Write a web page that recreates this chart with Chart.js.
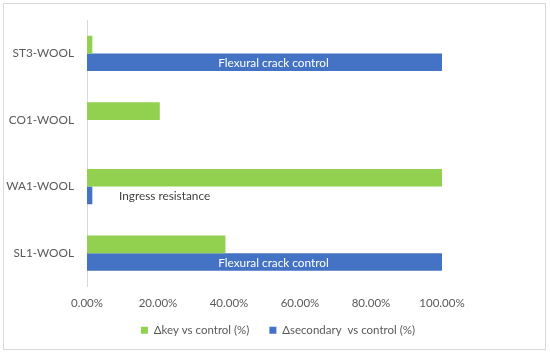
<!DOCTYPE html>
<html>
<head>
<meta charset="utf-8">
<script src="https://cdn.jsdelivr.net/npm/chart.js@4.4.1/dist/chart.umd.min.js"></script>
<style>
	html, body { margin: 0; padding: 0; background: #fff; }
	#wrap { position: relative; width: 550px; height: 355px; }
	#frame {
		position: absolute; left: 3px; top: 3px; width: 541px; height: 345px;
		border: 1px solid #d9d9d9;
	}
	canvas { position: absolute; left: 0; top: 0; }
</style>
</head>
<body>
<div id="wrap">
	<div id="frame"></div>
	<canvas id="chart" width="550" height="355"></canvas>
</div>
<script>
	// categories, top to bottom as drawn
	const categories = ["ST3-WOOL", "CO1-WOOL", "WA1-WOOL", "SL1-WOOL"];

	// series values (%)
	const keyVsControl = [1.5, 20.5, 100, 39];
	const secondaryVsControl = [100, 0, 1.5, 100];

	// notes written on the secondary bars
	const secondaryNotes = ["Flexural crack control", "", "Ingress resistance", "Flexural crack control"];

	// x axis ticks
	const xTicks = [0, 20, 40, 60, 80, 100, 120];

	const FONT = "Lato";
	const TEXT = "#595959";

	const barNotes = {
		id: "barNotes",
		afterDatasetsDraw(chart) {
			const ctx = chart.ctx;
			const meta = chart.getDatasetMeta(1);
			const xs = chart.scales.x;
			ctx.save();
			ctx.font = `11.8px ${FONT}`;
			ctx.textBaseline = "middle";
			secondaryNotes.forEach((note, i) => {
				if (!note) return;
				const bar = meta.data[i];
				if (Math.abs(bar.x - bar.base) > 150) {
					ctx.fillStyle = "#ffffff";
					ctx.textAlign = "center";
					ctx.fillText(note, (bar.x + bar.base) / 2 + 9, bar.y + 1);
				} else {
					ctx.fillStyle = "#404040";
					ctx.textAlign = "left";
					ctx.fillText(note, xs.getPixelForValue(9), bar.y + 1);
				}
			});
			ctx.restore();
		},
	};

	// legend row is centred on the whole frame, not on the padded plot,
	// and lifted so the wide item padding doesn't push it down
	const placeLegend = {
		id: "placeLegend",
		afterLayout(chart) {
			const legend = chart.legend;
			const shift = (chart.width - (legend.left + legend.right)) / 2 + 3;
			legend.left += shift;
			legend.right += shift;
			legend.top -= 10;
			legend.bottom -= 10;
		},
	};

	new Chart(document.getElementById("chart"), {
		type: "bar",
		data: {
			labels: categories,
			datasets: [
				{
					label: "Δkey vs control (%)",
					data: keyVsControl,
					backgroundColor: "#92d050",
					barPercentage: 1,
					categoryPercentage: 0.53,
				},
				{
					label: "Δsecondary  vs control (%)",
					data: secondaryVsControl,
					backgroundColor: "#4472c4",
					barPercentage: 1,
					categoryPercentage: 0.53,
				},
			],
		},
		options: {
			indexAxis: "y",
			responsive: false,
			animation: false,
			layout: {
				padding: { top: 17.5, right: 37, left: 0, bottom: 9 },
			},
			scales: {
				x: {
					min: 0,
					max: 120,
					afterBuildTicks(scale) {
						scale.ticks = xTicks.map((v) => ({ value: v }));
					},
					afterFit(scale) {
						scale.height = 28;
					},
					grid: { display: false, drawTicks: false },
					border: { display: false },
					ticks: {
						color: TEXT,
						font: { family: FONT, size: 11.5 },
						padding: 10,
						callback: (v) => (v > 100 ? "" : v.toFixed(2) + "%"),
					},
				},
				y: {
					afterFit(scale) {
						scale.width = 87;
					},
					grid: { display: false, drawTicks: false },
					border: { display: true, color: "#d9d9d9" },
					ticks: {
						color: TEXT,
						font: { family: FONT, size: 11.8 },
						padding: 13,
					},
				},
			},
			plugins: {
				legend: {
					position: "bottom",
					maxHeight: 31.5,
					labels: {
						color: TEXT,
						font: { family: FONT, size: 11.5 },
						boxWidth: 7,
						boxHeight: 7,
						padding: 20,
					},
				},
				tooltip: { enabled: false },
			},
		},
		plugins: [barNotes, placeLegend],
	});
</script>
</body>
</html>
